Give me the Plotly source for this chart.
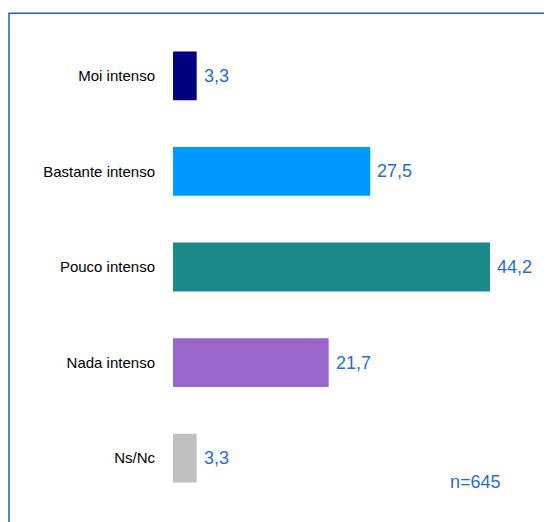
import plotly.graph_objects as go

categories = ["Moi intenso", "Bastante intenso", "Pouco intenso", "Nada intenso", "Ns/Nc"]
values = [3.3, 27.5, 44.2, 21.7, 3.3]
colors = ["#000080", "#0099ff", "#1a8a8a", "#9966cc", "#c0c0c0"]
note = "n=645"

labels = [f"{v:.1f}".replace(".", ",") for v in values]

FONT = "Liberation Sans, Arial, sans-serif"

fig = go.Figure()
fig.add_trace(go.Bar(
    x=values, y=categories, orientation="h",
    marker=dict(color=colors, line=dict(width=0)),
    width=0.51, hoverinfo="skip",
))

for c, v, t in zip(categories, values, labels):
    fig.add_annotation(x=v, y=c, text=t, showarrow=False, xanchor="left",
                       xshift=5, font=dict(size=18, color="#1f6fd0", family=FONT))

fig.add_annotation(x=0.812, y=0.05, xref="paper", yref="paper", text=note,
                   showarrow=False, xanchor="center", yanchor="middle",
                   font=dict(size=18, color="#1f6fd0", family=FONT))

fig.add_shape(type="rect", xref="paper", yref="paper",
              x0=-0.4397, x1=1.0054, y0=-0.08, y1=1.031,
              line=dict(color="#1f5fbf", width=1.5), fillcolor="rgba(0,0,0,0)")

fig.update_layout(
    width=544, height=514,
    margin=dict(l=165, r=6, t=20, b=16),
    paper_bgcolor="white", plot_bgcolor="white",
    showlegend=False,
    font=dict(family=FONT, color="black"),
    xaxis=dict(range=[0, 52], visible=False, fixedrange=True),
    yaxis=dict(autorange="reversed", showgrid=False, zeroline=False, showline=False,
               ticks="", ticklabelstandoff=17, tickfont=dict(size=15, color="black")),
    bargap=0.49,
)

fig.write_html("out.html")
